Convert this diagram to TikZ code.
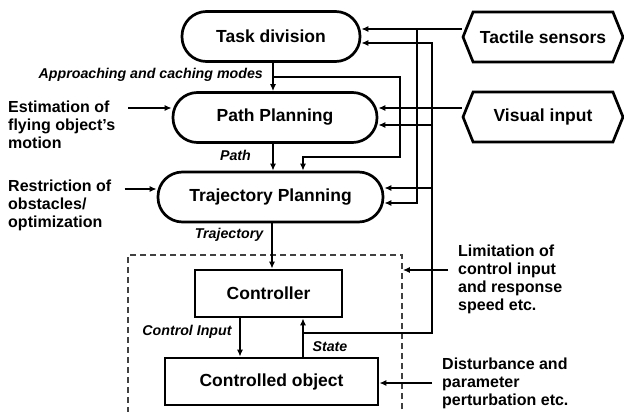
\documentclass[tikz,border=0pt]{standalone}
\usepackage{fontspec}
\setmainfont{Liberation Sans}
\usetikzlibrary{arrows.meta, shapes.symbols}

\tikzset{
  stadium/.style={draw, line width=2.7pt, rounded corners=24.5pt, minimum height=50pt, inner sep=0pt, font=\fontsize{17.5}{20}\selectfont\bfseries},
  block/.style={draw, line width=2.7pt, minimum height=47pt, inner sep=0pt, font=\fontsize{17.5}{20}\selectfont\bfseries},
  sensor/.style={draw, line width=2.7pt, signal, signal to=east and west, signal pointer angle=136, minimum width=160pt, minimum height=50pt, inner sep=0pt, font=\fontsize{17.5}{20}\selectfont\bfseries},
  sidetext/.style={align=left, inner sep=0pt, font=\fontsize{16}{18}\selectfont\bfseries},
  tag/.style={inner sep=0pt, font=\fontsize{14.2}{16}\selectfont\bfseries\itshape},
  arr/.style={line width=1.4pt, -{Latex[length=7pt,width=6pt]}},
  loopbox/.style={draw=black!75, line width=1.6pt, dash pattern=on 6pt off 4pt, minimum width=274pt, minimum height=170pt},
}

\begin{document}
\begin{tikzpicture}[x=1pt,y=-1pt]
\useasboundingbox (0,0) rectangle (624,412);
	% control loop (runs off the bottom)
	\node[loopbox] (loop) at (265,340) {};
	%
	\node[stadium, minimum width=178pt] (td) at (271,36.5) {Task division};
	\node[stadium, minimum width=204pt] (pp) at (275,117.5) {Path Planning};
	\node[stadium, minimum width=225pt] (tp) at (270.5,197) {Trajectory Planning};
	\node[block, minimum width=147pt] (ct) at (268.5,293.5) {Controller};
	\node[block, minimum width=213pt] (co) at (271.5,381.5) {Controlled object};
	\node[sensor] (ts) at (543,37) {Tactile sensors};
	\node[sensor] (vi) at (543,117) {Visual input};
	%
	\node[sidetext, anchor=west] (est) at (8,125) {Estimation of\\flying object's\\motion};
	\node[sidetext, anchor=west] (rest) at (8,205) {Restriction of\\obstacles/\\optimization};
	\node[sidetext, anchor=west] (lim) at (458,279) {Limitation of\\control input\\and response\\speed etc.};
	\node[sidetext, anchor=west] (dist) at (442,383) {Disturbance and\\parameter\\perturbation etc.};
	%
	\node[tag, anchor=east] (modes) at (263,75) {Approaching and caching modes};
	\node[tag] (pathlbl) at (235.5,155) {Path};
	\node[tag] (trajlbl) at (229,235) {Trajectory};
	\node[tag] (cinlbl) at (187,332) {Control Input};
	\node[tag] (statelbl) at (330,347) {State};
	%
	\coordinate (busA) at (400,0);
	\coordinate (busB) at (417,0);
	\coordinate (busC) at (432,0);
	\coordinate (split) at (273,77);
	\coordinate (fb) at (303,333);
	% main chain
	\draw[arr] (td.south -| 273,0) -- (pp.north -| 273,0);
	\draw[arr] (pp.south -| 273,0) -- (tp.north -| 273,0);
	\draw[arr] (tp.south -| 272,0) -- (ct.north -| 272,0);
	\draw[arr] (ct.south -| 240,0) -- (co.north -| 240,0);
	\draw[arr] (co.north -| fb) -- (ct.south -| fb);
	\draw[arr] (split) -| (busA |- 0,157) -| (tp.north -| fb);
	% sensors
	\draw[arr] (ts.west |- 0,29) -- (td.east |- 0,29);
	\draw[arr] (busB |- 0,29) |- (tp.east |- 0,203);
	\draw[arr] (vi.west |- 0,108) -- (pp.east |- 0,108);
	% state fed back
	\draw[arr] (fb) -| (busC |- 0,43) -- (td.east |- 0,43);
	\draw[arr] (busC |- 0,125) -- (pp.east |- 0,125);
	\draw[arr] (busC |- 0,188) -- (tp.east |- 0,188);
	% outside conditions
	\draw[arr] ([xshift=13pt]est.east |- 0,108) -- (pp.west |- 0,108);
	\draw[arr] ([xshift=13pt]rest.east |- 0,189) -- (tp.west |- 0,189);
	\draw[arr] ([xshift=-10pt]lim.west |- 0,270) -- (loop.east |- 0,270);
	\draw[arr] ([xshift=-10pt]dist.west |- 0,383) -- (co.east |- 0,383);
\end{tikzpicture}
\end{document}
